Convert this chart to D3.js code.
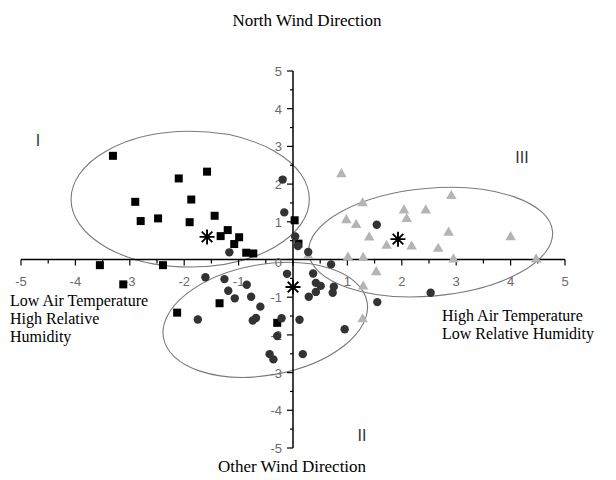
<!DOCTYPE html>
<html><head><meta charset="utf-8">
<script src="https://cdn.jsdelivr.net/npm/d3@7"></script>
<style>body{margin:0;background:#fff}svg{display:block}</style>
</head><body>
<script>
// ---- data ----
const squares = [[-3.31,2.75],[-2.10,2.15],[-1.58,2.33],[-2.90,1.53],[-1.87,1.59],[-2.80,1.02],[-2.48,1.09],[-1.90,0.99],[-1.44,1.16],[-1.20,0.78],[-1.33,0.62],[-0.99,0.59],[-1.08,0.41],[-0.86,0.18],[-0.73,0.16],[-3.55,-0.15],[-2.39,-0.15],[-3.12,-0.66],[-2.13,-1.41],[-1.35,-1.16],[0.03,1.04],[0.10,0.42],[-0.29,-1.68]];
const circles = [[-0.19,2.12],[-0.16,1.25],[0.04,0.61],[0.09,0.36],[0.28,0.20],[-1.17,0.19],[0.70,-0.13],[-1.61,-0.47],[-1.26,-0.52],[-0.85,-0.67],[-1.19,-0.83],[-1.07,-1.03],[-0.77,-0.99],[-0.11,-0.38],[0.37,-0.37],[0.42,-0.62],[0.51,-0.70],[0.75,-0.72],[0.73,-0.88],[0.42,-0.86],[0.29,-0.99],[-0.60,-1.25],[1.55,-1.13],[1.54,0.92],[2.53,-0.88],[-1.75,-1.59],[-0.74,-1.62],[-0.68,-1.55],[-0.21,-1.56],[0.12,-1.60],[-0.29,-2.03],[0.95,-1.85],[-0.43,-2.51],[-0.36,-2.65],[0.18,-2.51]];
const triangles = [[0.89,2.29],[1.28,1.52],[2.91,1.71],[2.04,1.33],[2.44,1.33],[2.09,1.10],[0.98,1.07],[1.16,0.94],[2.86,0.74],[1.40,0.61],[4.00,0.62],[1.72,0.39],[2.18,0.37],[2.67,0.31],[1.01,0.08],[1.29,0.07],[2.95,0.03],[4.47,0.03],[1.53,-0.31],[1.29,-0.69],[0.28,0.12],[1.28,-1.56]];
const centroids = [[-1.58,0.60],[1.93,0.54],[0.00,-0.73]];
// ellipses: [cx, cy, rx, ry, rotation deg]
const ellipses = [[-1.89,1.60,2.19,1.80,0],[2.53,0.46,2.25,1.43,-5],[-0.51,-1.60,1.90,1.47,-10]];
const tickValues = [-5,-4,-3,-2,-1,0,1,2,3,4,5];
const minorValues = d3.range(-5,5.01,0.5);
const groupLabels = ["I","II","III"];

const W=616,H=480;
const svg=d3.select("body").append("svg").attr("width",W).attr("height",H);
const x=d3.scaleLinear().domain([-5,5]).range([21,565]);
const y=d3.scaleLinear().domain([-5,5]).range([448,71]);

// ellipses
svg.selectAll("ellipse").data(ellipses).enter().append("ellipse")
  .attr("cx",0).attr("cy",0)
  .attr("rx",d=>x(d[0]+d[2])-x(d[0]))
  .attr("ry",d=>y(d[1]-d[3])-y(d[1]))
  .attr("transform",d=>`translate(${x(d[0])},${y(d[1])}) rotate(${d[4]})`)
  .attr("fill","none").attr("stroke","#7a7a7a").attr("stroke-width",1.1);

// axes
const ax=svg.append("g");
ax.append("line").attr("x1",x(-5)).attr("x2",x(5)).attr("y1",y(0)).attr("y2",y(0)).attr("stroke","#000").attr("stroke-width",1.5);
ax.append("line").attr("x1",x(0)).attr("x2",x(0)).attr("y1",y(-5)).attr("y2",y(5)).attr("stroke","#000").attr("stroke-width",1.5);
ax.selectAll(".xt").data(minorValues).enter().append("line")
  .attr("x1",d=>x(d)).attr("x2",d=>x(d)).attr("y1",y(0))
  .attr("y2",d=>y(0)+(Math.abs(d%1)<1e-6?6:4)).attr("stroke","#000").attr("stroke-width",1.2);
ax.selectAll(".yt").data(minorValues).enter().append("line")
  .attr("y1",d=>y(d)).attr("y2",d=>y(d)).attr("x1",x(0))
  .attr("x2",d=>x(0)-(Math.abs(d%1)<1e-6?6:3)).attr("stroke","#000").attr("stroke-width",1.2);
ax.selectAll(".xl").data(tickValues.filter(d=>d!==0)).enter().append("text")
  .attr("x",d=>x(d)).attr("y",y(0)+26).attr("text-anchor","middle")
  .attr("font-family","Liberation Sans, Arial, sans-serif").attr("font-size",13).attr("fill","#6a6a6a")
  .text(d=>d);
ax.selectAll(".yl").data(tickValues).enter().append("text")
  .attr("x",x(0)-11).attr("y",d=>y(d)+(d===0?7:5)).attr("text-anchor","end")
  .attr("font-family","Liberation Sans, Arial, sans-serif").attr("font-size",13).attr("fill","#6a6a6a")
  .text(d=>d);

// points
svg.selectAll(".tri").data(triangles).enter().append("path")
  .attr("d",d3.symbol(d3.symbolTriangle,48))
  .attr("transform",d=>`translate(${x(d[0])},${y(d[1])+1})`).attr("fill","#b4b4b4");
svg.selectAll(".sq").data(squares).enter().append("rect")
  .attr("x",d=>x(d[0])-4).attr("y",d=>y(d[1])-4).attr("width",8).attr("height",8).attr("fill","#000");
svg.selectAll(".ci").data(circles).enter().append("circle")
  .attr("cx",d=>x(d[0])).attr("cy",d=>y(d[1])).attr("r",4.2).attr("fill","#333");
const r=7.5;
svg.selectAll(".st").data(centroids).enter().append("path")
  .attr("transform",d=>`translate(${x(d[0])},${y(d[1])})`)
  .attr("d",()=>{let p="";for(let i=0;i<4;i++){const a=i*Math.PI/4;p+=`M${-r*Math.cos(a)},${-r*Math.sin(a)}L${r*Math.cos(a)},${r*Math.sin(a)}`;}return p;})
  .attr("stroke","#000").attr("stroke-width",1.9);

// texts
const serif="Liberation Serif, Times New Roman, serif";
function t(s,xx,yy,anchor,size){svg.append("text").attr("x",xx).attr("y",yy).attr("text-anchor",anchor||"start")
  .attr("font-family",serif).attr("font-size",size||16).attr("fill","#000").text(s);}
t("North Wind Direction",307,26,"middle",17);
t("Other Wind Direction",292,472,"middle",17);
t("Low Air Temperature",10,306);
t("High Relative",10,324);
t("Humidity",10,342);
t("High Air Temperature",442,321);
t("Low Relative Humidity",442,339);
const sans="Liberation Sans, Arial, sans-serif";
svg.append("text").attr("x",38).attr("y",146).attr("text-anchor","middle").attr("font-family",sans).attr("font-size",16).attr("fill","#333").text(groupLabels[0]);
svg.append("text").attr("x",362).attr("y",441).attr("text-anchor","middle").attr("font-family",sans).attr("font-size",16).attr("fill","#333").text(groupLabels[1]);
svg.append("text").attr("x",522).attr("y",163).attr("text-anchor","middle").attr("font-family",sans).attr("font-size",16).attr("fill","#333").text(groupLabels[2]);
</script>
</body></html>
